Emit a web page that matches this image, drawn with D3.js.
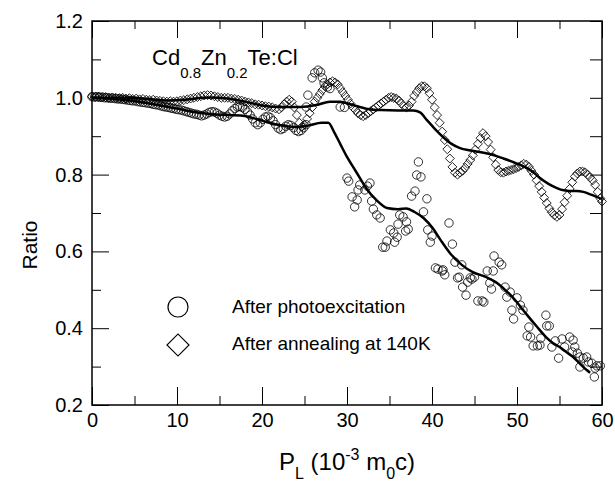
<!DOCTYPE html>
<html lang="en">
<head>
<meta charset="utf-8">
<title>Ratio vs P_L</title>
<script src="https://cdn.jsdelivr.net/npm/d3@7/dist/d3.min.js"></script>
<style>
  body { margin: 0; background: #fff; }
  svg text { font-family: "Liberation Sans", Arial, sans-serif; fill: #000; }
  .axis .domain { display: none; }
  .axis line { stroke: #000; stroke-width: 1; }
</style>
</head>
<body>
<div id="chart"></div>
<script>
// After photoexcitation (circles), [P_L, ratio]
const photoPoints = [
  [0,1.003],[0.3,1.002],[0.6,1.003],[0.9,1.001],[1.2,1.002],[1.5,1.0],[1.8,1.0],[2.1,0.999],[2.4,0.999],[2.7,0.998],
  [3.0,0.997],[3.3,0.997],[3.6,0.996],[3.9,0.995],[4.2,0.994],[4.5,0.993],[4.8,0.992],[5.1,0.992],[5.4,0.99],[5.7,0.989],
  [6.0,0.988],[6.3,0.987],[6.6,0.986],[6.9,0.985],[7.2,0.983],[7.5,0.982],[7.8,0.981],[8.1,0.979],[8.4,0.977],[8.7,0.976],
  [9.0,0.975],[9.3,0.973],[9.6,0.972],[9.9,0.97],[10.2,0.969],[10.5,0.968],[10.8,0.966],[11.1,0.964],[11.4,0.962],[11.7,0.96],
  [12.0,0.958],[12.3,0.957],[12.6,0.955],[12.9,0.953],[13.2,0.955],[13.5,0.958],[13.8,0.962],[14.1,0.964],[14.4,0.963],[14.7,0.96],
  [15.0,0.955],[15.3,0.952],[15.6,0.95],[15.9,0.952],[16.2,0.958],[16.5,0.966],[16.8,0.972],[17.1,0.976],[17.4,0.977],[17.7,0.975],
  [18.0,0.97],[18.3,0.963],[18.6,0.955],[18.9,0.945],[19.2,0.935],[19.5,0.93],[19.8,0.935],[20.1,0.944],[20.4,0.95],[20.7,0.952],
  [21.0,0.948],[21.3,0.94],[21.6,0.93],[21.9,0.921],[22.2,0.917],[22.5,0.92],[22.8,0.926],[23.1,0.93],[23.4,0.928],[23.7,0.922],
  [24.0,0.915],[24.3,0.912],[24.6,0.915],[24.9,0.922],[25.2,0.93],
  [25.2,0.976],[25.4,1.007],[25.9,1.052],[26.2,1.065],[26.6,1.072],[26.9,1.067],[27.1,1.052],[27.3,1.039],[27.7,1.028],[28.0,1.024],
  [29.2,0.976],[29.7,0.975],
  [30.0,0.791],[30.2,0.783],[30.6,0.742],[30.9,0.716],[31.2,0.734],[31.3,0.76],[31.5,0.773],[32.1,0.76],[32.4,0.77],[32.7,0.778],
  [32.9,0.731],[33.1,0.71],[33.5,0.695],[33.9,0.687],[34.2,0.611],[34.5,0.611],[34.7,0.627],[35.1,0.656],[35.5,0.648],[35.6,0.624],
  [35.9,0.637],[36.0,0.671],[36.2,0.695],[36.6,0.69],[36.9,0.653],[37.0,0.677],[37.2,0.658],[37.6,0.744],[38.0,0.757],[38.2,0.799],
  [38.4,0.833],[38.7,0.794],[39.0,0.703],[39.4,0.737],[39.5,0.656],[39.8,0.624],[40.0,0.64],[40.4,0.557],[40.7,0.554],[41.2,0.549],
  [41.5,0.539],[41.3,0.552],[42.0,0.674],[42.4,0.619],[42.7,0.572],[43.0,0.531],[43.2,0.533],[43.5,0.565],[43.6,0.507],[44.0,0.486],
  [44.2,0.52],[44.5,0.531],[44.7,0.528],[45.0,0.533],[45.4,0.471],[45.9,0.471],[46.1,0.468],[46.5,0.549],[46.8,0.518],[47.0,0.502],
  [47.2,0.549],[47.3,0.588],[47.9,0.572],[48.2,0.565],[48.6,0.507],[48.8,0.481],[49.2,0.494],[49.4,0.447],[49.6,0.424],[50.0,0.479],
  [50.4,0.46],[50.7,0.447],[51.2,0.38],[51.4,0.403],[51.6,0.377],[51.9,0.354],[52.4,0.354],[52.7,0.356],[52.8,0.374],[53.4,0.434],
  [53.5,0.406],[53.8,0.406],[54.1,0.351],[54.5,0.367],[54.9,0.322],[55.3,0.372],[55.6,0.351],[56.2,0.377],[56.5,0.338],[56.6,0.369],
  [56.8,0.351],[57.1,0.335],[57.4,0.325],[57.4,0.299],[57.8,0.322],[58.2,0.325],[58.4,0.312],[58.8,0.309],[59.1,0.273],[59.2,0.296],
  [59.4,0.302],[59.8,0.302]
];

// After annealing at 140K (diamonds), [P_L, ratio]
const annealPoints = [
  [0,1.003],[0.4,1.002],[0.8,1.003],[1.2,1.001],[1.6,1.002],[2.0,1.0],[2.4,1.001],[2.8,1.0],[3.2,0.999],[3.6,1.0],
  [4.0,0.998],[4.4,0.999],[4.8,0.997],[5.2,0.998],[5.6,0.996],[6.0,0.997],[6.4,0.995],[6.8,0.994],[7.2,0.995],[7.6,0.993],
  [8.0,0.992],[8.4,0.991],[8.8,0.99],[9.2,0.991],[9.6,0.99],[10.0,0.991],[10.4,0.993],[10.8,0.994],[11.2,0.996],[11.6,0.998],
  [12.0,1.0],[12.4,1.002],[12.8,1.004],[13.2,1.006],[13.6,1.007],[14.0,1.006],[14.4,1.004],[14.8,1.002],[15.2,1.0],[15.6,1.0],
  [16.0,1.0],[16.4,0.998],[16.8,0.997],[17.2,0.995],[17.6,0.993],[18.0,0.99],[18.4,0.988],[18.8,0.986],[19.2,0.983],[19.6,0.982],
  [20.0,0.98],[20.4,0.978],[20.8,0.977],[21.2,0.975],[21.6,0.972],[22.0,0.97],[22.3,0.975],[22.6,0.983],[22.9,0.99],[23.2,0.995],
  [23.5,0.99],[23.8,0.975],[24.1,0.955],[24.4,0.935],[24.7,0.925],[25.0,0.93],[25.3,0.945],[25.6,0.96],[25.9,0.975],[26.2,0.99],
  [26.5,1.0],[26.8,1.01],[27.1,1.02],[27.4,1.03],[27.7,1.035],[28.0,1.04],[28.3,1.043],[28.6,1.04],[28.9,1.035],[29.2,1.025],
  [29.5,1.015],[29.8,1.005],[30.1,0.995],[30.4,0.985],[30.7,0.975],[31.0,0.968],[31.3,0.96],[31.6,0.955],[31.9,0.952],[32.2,0.955],
  [32.5,0.96],[32.8,0.965],[33.1,0.97],[33.4,0.975],[33.7,0.98],[34.0,0.985],[34.3,0.99],[34.6,0.995],[34.9,1.0],[35.2,1.002],
  [35.5,1.0],[35.8,0.998],[36.1,0.993],[36.4,0.985],[36.7,0.978],[37.0,0.975],[37.3,0.98],[37.6,0.99],[37.9,1.005],[38.2,1.015],
  [38.5,1.025],[38.8,1.03],[39.1,1.03],[39.4,1.025],[39.7,1.012],[40.0,0.995],[40.3,0.975],[40.6,0.955],[40.9,0.935],[41.2,0.912],
  [41.5,0.89],[41.8,0.866],[42.1,0.842],[42.4,0.82],[42.7,0.805],[43.0,0.8],[43.3,0.805],[43.6,0.81],[43.9,0.818],[44.2,0.828],
  [44.5,0.838],[44.8,0.85],[45.1,0.865],[45.4,0.88],[45.7,0.895],[46.0,0.908],[46.3,0.9],[46.6,0.885],[46.9,0.865],[47.2,0.845],
  [47.5,0.826],[47.8,0.812],[48.1,0.806],[48.4,0.805],[48.7,0.808],[49.0,0.81],[49.3,0.812],[49.6,0.814],[49.9,0.817],[50.2,0.82],
  [50.5,0.824],[50.8,0.828],[51.1,0.826],[51.4,0.82],[51.7,0.81],[52.0,0.8],[52.3,0.785],[52.6,0.77],[52.9,0.755],[53.2,0.74],
  [53.5,0.726],[53.8,0.712],[54.1,0.702],[54.4,0.694],[54.7,0.69],[55.0,0.695],[55.3,0.71],[55.6,0.728],[55.9,0.745],[56.2,0.763],
  [56.5,0.78],[56.8,0.795],[57.1,0.803],[57.4,0.808],[57.7,0.808],[58.0,0.806],[58.3,0.8],[58.6,0.793],[58.9,0.785],[59.2,0.773],
  [59.5,0.755],[59.8,0.738],[60.0,0.73]
];

// smooth fit through the photoexcitation data
const photoFit = [
  [0,1.0],[2,0.998],[4,0.994],[6,0.988],[8,0.98],[10,0.972],[12,0.963],[14,0.958],[16,0.955],[17.5,0.954],
  [19,0.947],[20.5,0.937],[22,0.929],[24,0.924],[25.5,0.928],[27,0.935],[27.8,0.935],[28.5,0.91],[29.2,0.88],[30,0.846],
  [31,0.81],[32.4,0.76],[33.5,0.733],[34.7,0.713],[36,0.71],[37,0.712],[38,0.702],[39,0.687],[40.1,0.66],[41,0.63],
  [42.1,0.596],[43.5,0.565],[44.8,0.546],[46.4,0.533],[47.5,0.52],[48.6,0.5],[49.6,0.478],[50.4,0.456],[51.2,0.434],[52.3,0.405],
  [53.5,0.375],[54.3,0.36],[55,0.351],[55.8,0.338],[56.6,0.325],[57.4,0.308],[58.2,0.291],[58.6,0.284]
];

// smooth fit through the annealing data
const annealFit = [
  [0,1.0],[3,1.0],[6,0.998],[9,0.993],[11,0.995],[13,1.0],[14,1.001],[16,0.998],[18,0.99],[20,0.98],
  [22,0.976],[24.5,0.976],[26.4,0.981],[28,0.99],[29.2,0.99],[30.4,0.983],[32.4,0.971],[34,0.968],[36,0.967],[37.8,0.967],
  [38.6,0.962],[39.4,0.942],[40.3,0.92],[41.3,0.898],[42.3,0.88],[43.3,0.869],[44.5,0.863],[45.6,0.859],[47.2,0.851],[48.4,0.842],
  [49.5,0.833],[50.3,0.826],[51.2,0.817],[52,0.805],[52.7,0.791],[53.7,0.776],[54.7,0.765],[55.5,0.759],[56.2,0.757],[57,0.757],
  [57.8,0.755],[58.8,0.747],[60,0.736]
];

const xMajor = [0, 10, 20, 30, 40, 50, 60];
const xMinor = [5, 15, 25, 35, 45, 55];
const yMajor = [0.2, 0.4, 0.6, 0.8, 1.0, 1.2];
const yMinor = [0.3, 0.5, 0.7, 0.9, 1.1];
const legendLabels = ["After photoexcitation", "After annealing at 140K"];

const width = 615, height = 487;
const plot = {left: 92, right: 602, top: 21, bottom: 405};

const svg = d3.select("#chart").append("svg")
    .attr("width", width)
    .attr("height", height);

const x = d3.scaleLinear().domain([0, 60]).range([plot.left, plot.right]);
const y = d3.scaleLinear().domain([0.2, 1.2]).range([plot.bottom, plot.top]);

// axes, ticks pointing inward
svg.append("g").attr("class", "axis")
    .attr("transform", `translate(0,${plot.bottom})`)
    .call(d3.axisBottom(x).tickValues(xMajor).tickSize(-18).tickPadding(8).tickFormat(d3.format("d")))
    .call(g => g.selectAll("text").style("font-size", "20px"));
svg.append("g").attr("class", "axis")
    .attr("transform", `translate(0,${plot.bottom})`)
    .call(d3.axisBottom(x).tickValues(xMinor).tickSize(-9).tickFormat(""));
svg.append("g").attr("class", "axis")
    .attr("transform", `translate(0,${plot.top})`)
    .call(d3.axisTop(x).tickValues(xMajor).tickSize(-17).tickFormat(""));
svg.append("g").attr("class", "axis")
    .attr("transform", `translate(0,${plot.top})`)
    .call(d3.axisTop(x).tickValues(xMinor).tickSize(-8).tickFormat(""));

svg.append("g").attr("class", "axis")
    .attr("transform", `translate(${plot.left},0)`)
    .call(d3.axisLeft(y).tickValues(yMajor).tickSize(-17).tickPadding(9).tickFormat(d3.format(".1f")))
    .call(g => g.selectAll("text").style("font-size", "20px"));
svg.append("g").attr("class", "axis")
    .attr("transform", `translate(${plot.left},0)`)
    .call(d3.axisLeft(y).tickValues(yMinor).tickSize(-9).tickFormat(""));
svg.append("g").attr("class", "axis")
    .attr("transform", `translate(${plot.right},0)`)
    .call(d3.axisRight(y).tickValues(yMajor.concat(yMinor)).tickSize(-12).tickFormat(""));

// frame
svg.append("rect")
    .attr("x", plot.left).attr("y", plot.top)
    .attr("width", plot.right - plot.left)
    .attr("height", plot.bottom - plot.top)
    .attr("fill", "none")
    .attr("stroke", "#000")
    .attr("stroke-width", 1.5);

// markers
const diamond = d3.symbol(d3.symbolSquare, 40);
svg.append("g").selectAll("path")
    .data(annealPoints)
    .join("path")
    .attr("d", diamond)
    .attr("transform", d => `translate(${x(d[0])},${y(d[1])}) rotate(45)`)
    .attr("fill", "none")
    .attr("stroke", "#000")
    .attr("stroke-width", 0.8);

svg.append("g").selectAll("circle")
    .data(photoPoints)
    .join("circle")
    .attr("cx", d => x(d[0]))
    .attr("cy", d => y(d[1]))
    .attr("r", 4.2)
    .attr("fill", "none")
    .attr("stroke", "#000")
    .attr("stroke-width", 0.8);

// fit curves
const line = d3.line()
    .x(d => x(d[0]))
    .y(d => y(d[1]))
    .curve(d3.curveMonotoneX);

[annealFit, photoFit].forEach(data => {
    svg.append("path")
        .attr("d", line(data))
        .attr("fill", "none")
        .attr("stroke", "#000")
        .attr("stroke-width", 2.5);
});

// sample label
const title = svg.append("text")
    .attr("x", 152).attr("y", 65)
    .style("font-size", "22px");
title.append("tspan").text("Cd");
title.append("tspan").attr("dy", 13).style("font-size", "15px").text("0.8");
title.append("tspan").attr("dy", -13).text("Zn");
title.append("tspan").attr("dy", 13).style("font-size", "15px").text("0.2");
title.append("tspan").attr("dy", -13).text("Te:Cl");

// legend
svg.append("circle")
    .attr("cx", 178).attr("cy", 307).attr("r", 10)
    .attr("fill", "none").attr("stroke", "#000").attr("stroke-width", 1.2);
svg.append("path")
    .attr("d", d3.symbol(d3.symbolSquare, 242)())
    .attr("transform", "translate(178,345) rotate(45)")
    .attr("fill", "none").attr("stroke", "#000").attr("stroke-width", 1.2);
svg.selectAll("text.legend")
    .data(legendLabels)
    .join("text")
    .attr("class", "legend")
    .attr("x", 232)
    .attr("y", (d, i) => 313 + i * 37)
    .style("font-size", "19px")
    .text(d => d);

// axis titles
svg.append("text")
    .attr("transform", "translate(37,245) rotate(-90)")
    .attr("text-anchor", "middle")
    .style("font-size", "21px")
    .text("Ratio");

const xt = svg.append("text")
    .attr("x", 279).attr("y", 470)
    .style("font-size", "24px");
xt.append("tspan").text("P");
xt.append("tspan").attr("dy", 9).style("font-size", "16px").text("L");
xt.append("tspan").attr("dy", -9).text(" (10");
xt.append("tspan").attr("dy", -10).style("font-size", "16px").text("-3");
xt.append("tspan").attr("dy", 10).text(" m");
xt.append("tspan").attr("dy", 9).style("font-size", "16px").text("0");
xt.append("tspan").attr("dy", -9).text("c)");
</script>
</body>
</html>
